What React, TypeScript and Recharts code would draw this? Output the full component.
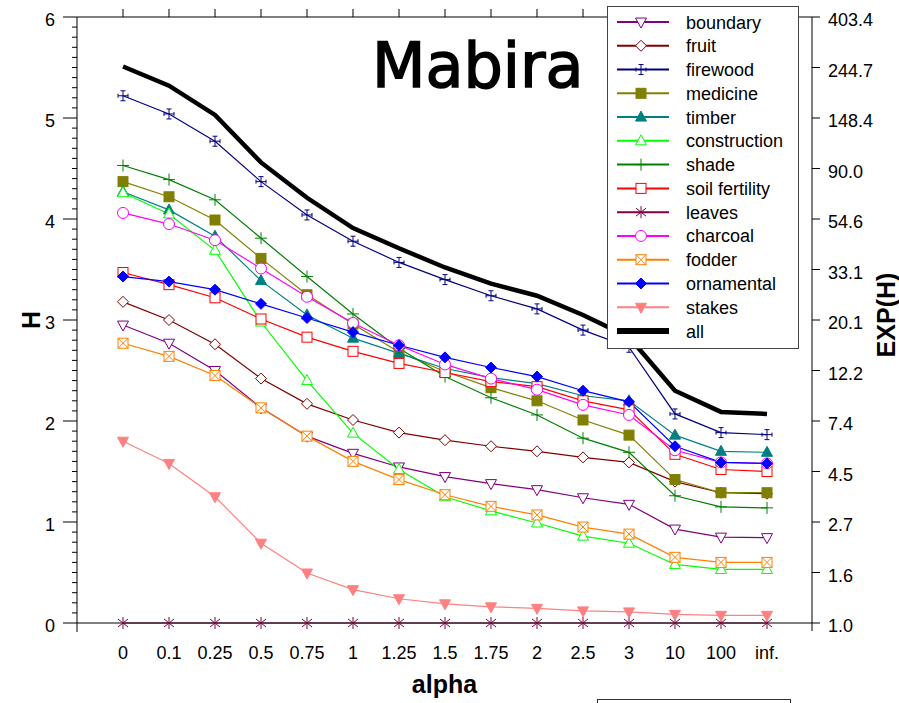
import React from 'react'
import { LineChart, Line, XAxis, YAxis, Legend } from 'recharts'

const FONT = '"Liberation Sans", Arial, Helvetica, sans-serif'

// x categories (alpha of the Hill series)
const alphaLabels = ['0', '0.1', '0.25', '0.5', '0.75', '1', '1.25', '1.5', '1.75', '2', '2.5', '3', '10', '100', 'inf.']

// left axis (H) and right axis (EXP(H)) ticks
const hTicks = [0, 1, 2, 3, 4, 5, 6]
const expTicks = [0, 0.5, 1, 1.5, 2, 2.5, 3, 3.5, 4, 4.5, 5, 5.5, 6]
const expLabels = ['1.0', '1.6', '2.7', '4.5', '7.4', '12.2', '20.1', '33.1', '54.6', '90.0', '148.4', '244.7', '403.4']

// series values
const boundary = [2.95, 2.77, 2.5, 2.13, 1.85, 1.68, 1.545, 1.45, 1.38, 1.32, 1.24, 1.175, 0.93, 0.85, 0.845]
const fruit = [3.18, 3.0, 2.76, 2.42, 2.17, 2.01, 1.885, 1.81, 1.75, 1.7, 1.64, 1.59, 1.4, 1.29, 1.28]
const firewood = [5.22, 5.04, 4.77, 4.37, 4.04, 3.78, 3.57, 3.4, 3.24, 3.11, 2.9, 2.73, 2.07, 1.885, 1.865]
const medicine = [4.37, 4.22, 3.99, 3.61, 3.25, 2.96, 2.68, 2.49, 2.33, 2.2, 2.01, 1.86, 1.42, 1.29, 1.29]
const timber = [4.27, 4.09, 3.83, 3.39, 3.05, 2.82, 2.67, 2.52, 2.43, 2.37, 2.25, 2.2, 1.86, 1.7, 1.69]
const construction = [4.26, 4.05, 3.69, 2.98, 2.4, 1.88, 1.52, 1.25, 1.11, 0.99, 0.86, 0.79, 0.58, 0.53, 0.53]
const shade = [4.53, 4.39, 4.19, 3.81, 3.43, 3.06, 2.72, 2.44, 2.23, 2.06, 1.83, 1.69, 1.26, 1.15, 1.14]
const soilFertility = [3.47, 3.35, 3.22, 3.01, 2.83, 2.69, 2.57, 2.48, 2.39, 2.34, 2.2, 2.11, 1.67, 1.52, 1.5]
const leaves = [0, 0, 0, 0, 0, 0, 0, 0, 0, 0, 0, 0, 0, 0, 0]
const charcoal = [4.06, 3.95, 3.79, 3.51, 3.23, 2.97, 2.75, 2.56, 2.42, 2.31, 2.16, 2.06, 1.71, 1.59, 1.58]
const fodder = [2.77, 2.64, 2.45, 2.13, 1.85, 1.6, 1.42, 1.27, 1.155, 1.07, 0.95, 0.88, 0.65, 0.6, 0.6]
const ornamental = [3.43, 3.38, 3.3, 3.16, 3.02, 2.88, 2.75, 2.63, 2.53, 2.44, 2.3, 2.19, 1.75, 1.59, 1.58]
const stakes = [1.8, 1.58, 1.25, 0.79, 0.495, 0.33, 0.24, 0.19, 0.16, 0.145, 0.12, 0.11, 0.086, 0.076, 0.076]
const all = [5.51, 5.32, 5.03, 4.56, 4.21, 3.91, 3.71, 3.52, 3.36, 3.24, 3.05, 2.83, 2.3, 2.09, 2.07]

const data = alphaLabels.map((alpha, i) => ({
  alpha,
  boundary: boundary[i],
  fruit: fruit[i],
  firewood: firewood[i],
  medicine: medicine[i],
  timber: timber[i],
  construction: construction[i],
  shade: shade[i],
  soilFertility: soilFertility[i],
  leaves: leaves[i],
  charcoal: charcoal[i],
  fodder: fodder[i],
  ornamental: ornamental[i],
  stakes: stakes[i],
  all: all[i],
}))

type Shape = 'triDown' | 'diamond' | 'errbar' | 'square' | 'triUp' | 'plus' | 'boxX' | 'asterisk' | 'circle' | 'none'

const series: { key: string; name: string; color: string; shape: Shape; filled?: boolean }[] = [
  { key: 'boundary', name: 'boundary', color: '#800080', shape: 'triDown' },
  { key: 'fruit', name: 'fruit', color: '#800000', shape: 'diamond' },
  { key: 'firewood', name: 'firewood', color: '#000080', shape: 'errbar' },
  { key: 'medicine', name: 'medicine', color: '#808000', shape: 'square', filled: true },
  { key: 'timber', name: 'timber', color: '#008080', shape: 'triUp', filled: true },
  { key: 'construction', name: 'construction', color: '#00ff00', shape: 'triUp' },
  { key: 'shade', name: 'shade', color: '#008000', shape: 'plus' },
  { key: 'soilFertility', name: 'soil fertility', color: '#ff0000', shape: 'square' },
  { key: 'leaves', name: 'leaves', color: '#800040', shape: 'asterisk' },
  { key: 'charcoal', name: 'charcoal', color: '#ff00ff', shape: 'circle' },
  { key: 'fodder', name: 'fodder', color: '#ff8000', shape: 'boxX' },
  { key: 'ornamental', name: 'ornamental', color: '#0000ff', shape: 'diamond', filled: true },
  { key: 'stakes', name: 'stakes', color: '#ff8080', shape: 'triDown', filled: true },
  { key: 'all', name: 'all', color: '#000000', shape: 'none' },
]

const Marker = ({ shape, color, filled, cx, cy }: any) => {
  if (cx == null || cy == null) return null
  const fill = filled ? color : '#ffffff'
  switch (shape) {
    case 'triDown':
      return <polygon points={`${cx - 5.5},${cy - 4} ${cx + 5.5},${cy - 4} ${cx},${cy + 6}`} fill={fill} stroke={color} strokeWidth={1} />
    case 'triUp':
      return <polygon points={`${cx - 5.5},${cy + 4} ${cx + 5.5},${cy + 4} ${cx},${cy - 6}`} fill={fill} stroke={color} strokeWidth={1} />
    case 'diamond':
      return <polygon points={`${cx},${cy - 5.5} ${cx + 5.5},${cy} ${cx},${cy + 5.5} ${cx - 5.5},${cy}`} fill={fill} stroke={color} strokeWidth={1} />
    case 'square':
      return <rect x={cx - 5} y={cy - 5} width={10} height={10} fill={fill} stroke={color} strokeWidth={1} />
    case 'circle':
      return <circle cx={cx} cy={cy} r={5.5} fill={fill} stroke={color} strokeWidth={1} />
    case 'boxX':
      return (
        <g stroke={color} strokeWidth={1}>
          <rect x={cx - 5} y={cy - 5} width={10} height={10} fill="#ffffff" />
          <line x1={cx - 5} y1={cy - 5} x2={cx + 5} y2={cy + 5} />
          <line x1={cx - 5} y1={cy + 5} x2={cx + 5} y2={cy - 5} />
        </g>
      )
    case 'plus':
      return (
        <g stroke={color} strokeWidth={1}>
          <line x1={cx - 6} y1={cy} x2={cx + 6} y2={cy} />
          <line x1={cx} y1={cy - 6} x2={cx} y2={cy + 6} />
        </g>
      )
    case 'asterisk':
      return (
        <g stroke={color} strokeWidth={1}>
          <line x1={cx} y1={cy - 6} x2={cx} y2={cy + 6} />
          <line x1={cx - 5} y1={cy - 4} x2={cx + 5} y2={cy + 4} />
          <line x1={cx - 5} y1={cy + 4} x2={cx + 5} y2={cy - 4} />
        </g>
      )
    case 'errbar':
      return (
        <g stroke={color} strokeWidth={1}>
          <line x1={cx} y1={cy - 5} x2={cx} y2={cy + 5} />
          <line x1={cx - 2.5} y1={cy - 5} x2={cx + 2.5} y2={cy - 5} />
          <line x1={cx - 2.5} y1={cy + 5} x2={cx + 2.5} y2={cy + 5} />
          <line x1={cx - 5} y1={cy} x2={cx + 5} y2={cy} />
          <line x1={cx - 5} y1={cy - 2} x2={cx - 5} y2={cy + 2} />
          <line x1={cx + 5} y1={cy - 2} x2={cx + 5} y2={cy + 2} />
        </g>
      )
    default:
      return null
  }
}

// left axis: major ticks with labels, minor ticks every 0.1
const minorTicks = Array.from({ length: 61 }, (_, i) => i / 10)

const LeftTick = ({ x, y, payload }: any) => {
  const v = payload.value
  const major = hTicks.some((t) => Math.abs(t - v) < 1e-6)
  return (
    <g>
      <line x1={x - (major ? 14 : 5)} y1={y} x2={x} y2={y} stroke="#000" strokeWidth={1} />
      {v === 0 && <line x1={x} y1={y} x2={x} y2={y + 9} stroke="#000" strokeWidth={1} />}
      {major && (
        <text x={x - 22} y={y + 9} textAnchor="end" fontSize={18} fontFamily={FONT} fill="#000">
          {Math.round(v)}
        </text>
      )}
    </g>
  )
}

const RightTick = ({ x, y, payload, index }: any) => (
  <g>
    <line x1={x} y1={y} x2={x + 8} y2={y} stroke="#000" strokeWidth={1} />
    {payload.value === 0 && <line x1={x} y1={y} x2={x} y2={y + 8} stroke="#000" strokeWidth={1} />}
    <text x={x + 16} y={y + 9} textAnchor="start" fontSize={18} fontFamily={FONT} fill="#000">
      {expLabels[index]}
    </text>
  </g>
)

const BottomTick = ({ x, y, payload }: any) => (
  <text x={x} y={y + 36} textAnchor="middle" fontSize={18} fontFamily={FONT} fill="#000">
    {payload.value}
  </text>
)

const TopTick = ({ x, y }: any) => <line x1={x} y1={y} x2={x} y2={y - 8} stroke="#000" strokeWidth={1} />

const LegendBox = () => (
  <div style={{ width: 192, height: 343, border: '1px solid #444', background: '#fff', boxSizing: 'border-box' }}>
    <svg width={190} height={341}>
      {series.map((s, i) => {
        const cy = 15 + i * 23.77
        return (
          <g key={s.key}>
            <line x1={9} y1={cy} x2={61} y2={cy} stroke={s.color} strokeWidth={s.key === 'all' ? 6 : 2} />
            <Marker shape={s.shape} color={s.color} filled={s.filled} cx={33} cy={cy} />
            <text x={78} y={cy + 6.5} fontSize={18} fontFamily={FONT} fill="#000">
              {s.name}
            </text>
          </g>
        )
      })}
    </svg>
  </div>
)

export default function App() {
  return (
    <div style={{ position: 'absolute', left: 0, top: 0, width: 899, height: 703, overflow: 'hidden', background: '#fff' }}>
      <LineChart width={899} height={703} data={data} margin={{ top: 7, right: 27, bottom: 40, left: 17 }}>
        <XAxis
          xAxisId="bottom"
          dataKey="alpha"
          type="category"
          padding={{ left: 46, right: 45 }}
          height={40}
          axisLine={{ stroke: '#000' }}
          tickLine={false}
          tickSize={0}
          tickMargin={0}
          interval={0}
          tick={<BottomTick />}
          label={({ viewBox }: any) => (
            <text
              x={viewBox.x + viewBox.width / 2}
              y={693}
              textAnchor="middle"
              fontSize={25}
              fontWeight="bold"
              fontFamily={FONT}
              fill="#000"
            >
              alpha
            </text>
          )}
        />
        <XAxis
          xAxisId="top"
          orientation="top"
          dataKey="alpha"
          type="category"
          padding={{ left: 46, right: 45 }}
          height={10}
          axisLine={{ stroke: '#000' }}
          tickLine={false}
          tickSize={0}
          tickMargin={0}
          interval={0}
          tick={<TopTick />}
        />
        <YAxis
          yAxisId="left"
          type="number"
          domain={[0, 6]}
          ticks={minorTicks}
          interval={0}
          width={60}
          axisLine={{ stroke: '#000' }}
          tickLine={false}
          tickSize={0}
          tickMargin={0}
          tick={<LeftTick />}
          label={({ viewBox }: any) => (
            <text
              x={viewBox.x + 14}
              y={viewBox.y + viewBox.height / 2}
              transform={`rotate(-90, ${viewBox.x + 14}, ${viewBox.y + viewBox.height / 2})`}
              textAnchor="middle"
              dominantBaseline="central"
              fontSize={25}
              fontWeight="bold"
              fontFamily={FONT}
              fill="#000"
            >
              H
            </text>
          )}
        />
        <YAxis
          yAxisId="right"
          orientation="right"
          type="number"
          domain={[0, 6]}
          ticks={expTicks}
          interval={0}
          width={60}
          axisLine={{ stroke: '#000' }}
          tickLine={false}
          tickSize={0}
          tickMargin={0}
          tick={<RightTick />}
          label={({ viewBox }: any) => (
            <text
              x={viewBox.x + 74}
              y={315}
              transform={`rotate(-90, ${viewBox.x + 74}, 315)`}
              textAnchor="middle"
              dominantBaseline="central"
              fontSize={25}
              fontWeight="bold"
              fontFamily={FONT}
              fill="#000"
            >
              EXP(H)
            </text>
          )}
        />
        <Legend
          layout="horizontal"
          verticalAlign="middle"
          align="center"
          wrapperStyle={{ left: 607, top: 6, width: 192, height: 343 }}
          content={<LegendBox />}
        />
        {series.map((s) => (
          <Line
            key={s.key}
            dataKey={s.key}
            name={s.name}
            xAxisId={s.key === 'leaves' ? 'top' : 'bottom'}
            yAxisId={s.key === 'all' ? 'right' : 'left'}
            type="linear"
            stroke={s.color}
            strokeWidth={s.key === 'all' ? 4.5 : 1.2}
            isAnimationActive={false}
            dot={
              s.shape === 'none'
                ? false
                : (p: any) => (
                    <Marker key={`${s.key}-${p.index}`} shape={s.shape} color={s.color} filled={s.filled} cx={p.cx} cy={p.cy} />
                  )
            }
            activeDot={false}
          />
        ))}
      </LineChart>
      <div
        style={{
          position: 'absolute',
          left: 372,
          top: 35,
          fontSize: 62,
          lineHeight: '62px',
          fontFamily: '"DejaVu Sans", sans-serif',
          color: '#000',
          WebkitTextStroke: '1.5px #000',
          whiteSpace: 'nowrap',
        }}
      >
        Mabira
      </div>
      <div
        style={{
          position: 'absolute',
          left: 597,
          top: 699,
          width: 194,
          height: 30,
          border: '1px solid #333',
          boxSizing: 'border-box',
        }}
      />
    </div>
  )
}
